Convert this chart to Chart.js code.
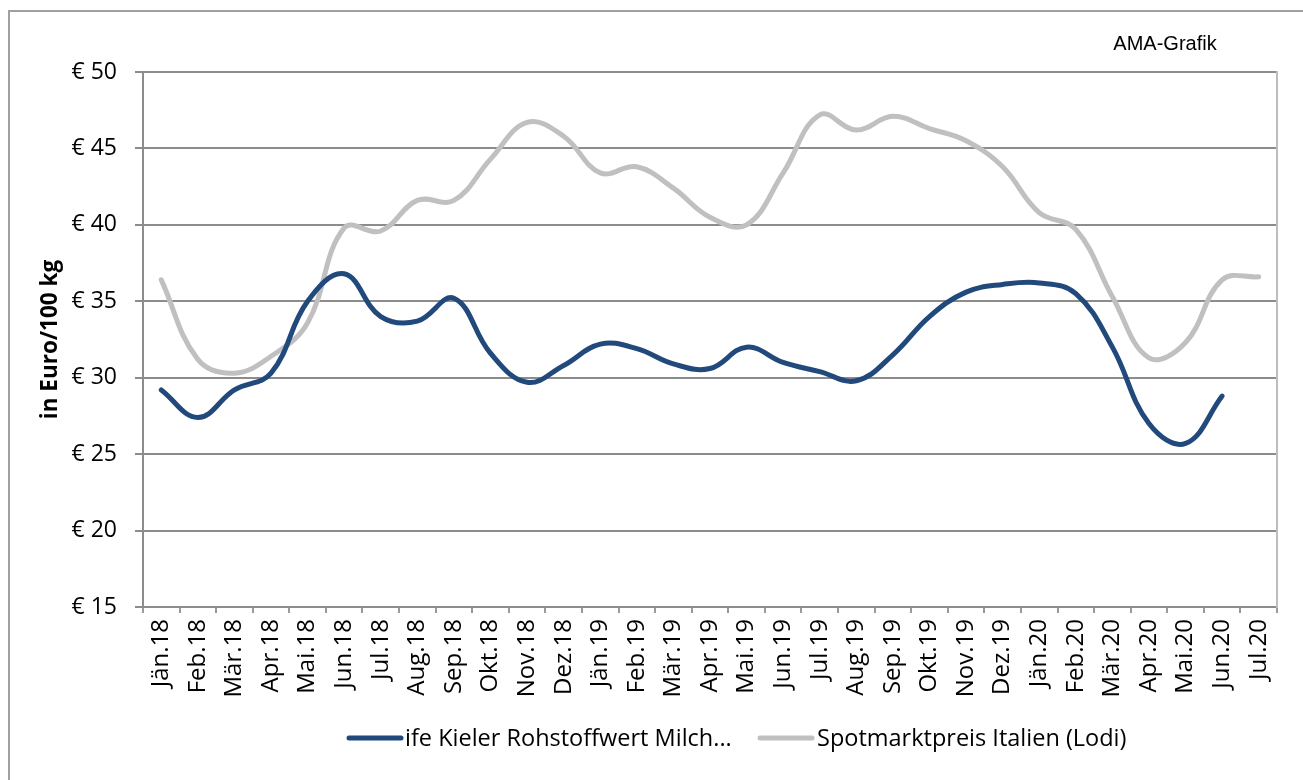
<!DOCTYPE html>
<html>
<head>
<meta charset="utf-8">
<script src="https://cdn.jsdelivr.net/npm/chart.js@4.4.0/dist/chart.umd.min.js"></script>
<style>
  html, body { margin: 0; padding: 0; background: #fff; }
  #wrap { width: 1303px; height: 780px; position: relative; }
</style>
</head>
<body>
<div id="wrap"><canvas id="milk"></canvas></div>
<script>
// chart data
const months = ["Jän.18","Feb.18","Mär.18","Apr.18","Mai.18","Jun.18","Jul.18","Aug.18","Sep.18","Okt.18","Nov.18","Dez.18",
  "Jän.19","Feb.19","Mär.19","Apr.19","Mai.19","Jun.19","Jul.19","Aug.19","Sep.19","Okt.19","Nov.19","Dez.19",
  "Jän.20","Feb.20","Mär.20","Apr.20","Mai.20","Jun.20","Jul.20"];
const kielValues = [29.2, 27.4, 29.2, 30.3, 35.0, 36.8, 34.0, 33.7, 35.2, 31.6, 29.7, 30.8,
  32.2, 31.9, 30.9, 30.6, 32.0, 31.0, 30.4, 29.8, 31.5, 34.0, 35.6, 36.1,
  36.2, 35.5, 32.0, 27.0, 25.7, 28.8];
const lodiValues = [36.4, 31.2, 30.3, 31.4, 33.6, 39.8, 39.6, 41.6, 41.6, 44.3, 46.7, 45.8,
  43.4, 43.8, 42.4, 40.5, 40.0, 43.4, 47.2, 46.2, 47.1, 46.3, 45.5, 43.8,
  40.8, 39.7, 35.3, 31.3, 32.3, 36.4, 36.6];
const seriesNames = ["ife Kieler Rohstoffwert Milch...", "Spotmarktpreis Italien (Lodi)"];
const seriesColors = ["#22497c", "#c0c0c0"];
const yTicks = [15, 20, 25, 30, 35, 40, 45, 50];

const baseFont = "'Open Sans', 'Noto Sans', sans-serif";

// white page + outer frame
const framePlugin = {
  id: 'frame',
  beforeDraw(chart) {
    const ctx = chart.ctx;
    ctx.save();
    ctx.fillStyle = '#fff';
    ctx.fillRect(0, 0, chart.width, chart.height);
    ctx.strokeStyle = '#a0a0a0';
    ctx.lineWidth = 2;
    ctx.strokeRect(9, 11, 1300, 800);
    ctx.restore();
  },
  afterDraw(chart) {
    const ctx = chart.ctx;
    ctx.save();
    // source note
    ctx.fillStyle = '#000';
    ctx.font = "20px 'Liberation Sans', Arial, sans-serif";
    ctx.textAlign = 'center';
    ctx.textBaseline = 'middle';
    ctx.fillText('AMA-Grafik', 1165, 44);

    // legend
    const items = [{x: 347, tx: 405}, {x: 758, tx: 817}];
    ctx.font = "23.5px " + baseFont;
    ctx.textAlign = 'left';
    items.forEach((it, i) => {
      ctx.strokeStyle = seriesColors[i];
      ctx.lineWidth = 5;
      ctx.lineCap = 'round';
      ctx.beginPath();
      ctx.moveTo(it.x + 2, 738);
      ctx.lineTo(it.x + 54, 738);
      ctx.stroke();
      ctx.fillStyle = '#000';
      ctx.fillText(seriesNames[i], it.tx, 739);
    });
    ctx.restore();
  }
};

const lineStyle = {
  borderWidth: 5,
  pointRadius: 0,
  tension: 0.4,
  borderCapStyle: 'round',
  borderJoinStyle: 'round',
  fill: false
};

new Chart(document.getElementById('milk'), {
  type: 'line',
  data: {
    labels: months,
    datasets: [
      Object.assign({ label: seriesNames[0], data: kielValues, borderColor: seriesColors[0], backgroundColor: seriesColors[0] }, lineStyle),
      Object.assign({ label: seriesNames[1], data: lodiValues, borderColor: seriesColors[1], backgroundColor: seriesColors[1] }, lineStyle)
    ]
  },
  options: {
    responsive: true,
    maintainAspectRatio: false,
    animation: false,
    layout: { padding: { left: 0, right: 26, top: 72, bottom: 63 } },
    plugins: {
      legend: { display: false },
      tooltip: { enabled: false }
    },
    scales: {
      x: {
        offset: true,
        grid: { offset: true, drawOnChartArea: false, drawTicks: true, tickLength: 6, color: '#9a9a9a', lineWidth: 2 },
        border: { display: true, color: '#8c8c8c', width: 2 },
        ticks: { autoSkip: false, minRotation: 90, maxRotation: 90, padding: 6, color: '#000', font: { family: baseFont, size: 24 } },
        afterFit(scale) { scale.height = 110; }
      },
      y: {
        min: 15,
        max: 50,
        afterBuildTicks(scale) { scale.ticks = yTicks.map(v => ({ value: v })); },
        grid: { color: '#8c8c8c', lineWidth: 2, tickLength: 8 },
        border: { display: true, color: '#8c8c8c', width: 2 },
        ticks: {
          padding: 18,
          color: '#000',
          font: { family: baseFont, size: 23 },
          callback: v => '€ ' + v
        },
        title: {
          display: true,
          text: 'in Euro/100 kg',
          color: '#000',
          font: { family: baseFont, size: 22.5, weight: 'bold' },
          padding: { top: 37, bottom: 0 }
        },
        afterFit(scale) { scale.width = 143; }
      },
      yRight: {
        position: 'right',
        min: 15,
        max: 50,
        ticks: { display: false },
        grid: { drawOnChartArea: false, drawTicks: false },
        border: { display: true, color: '#bdbdbd', width: 2 },
        afterFit(scale) { scale.width = 0; }
      }
    }
  },
  plugins: [framePlugin]
});
</script>
</body>
</html>
